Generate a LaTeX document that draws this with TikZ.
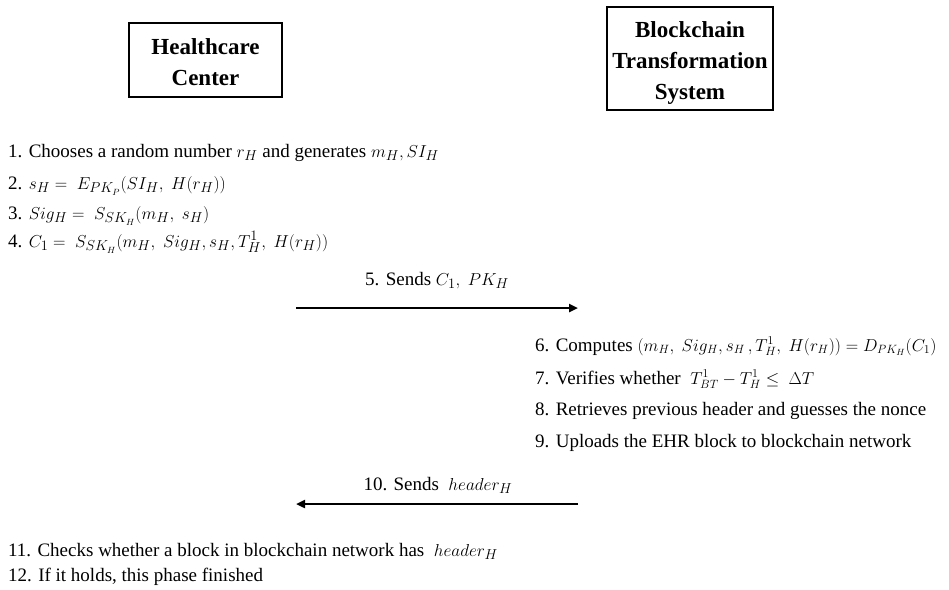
\documentclass[tikz,border=0pt]{standalone}
\usepackage{fontspec}
\setmainfont{Liberation Serif}
\usetikzlibrary{arrows.meta}
\newcommand\smallmath[1]{{\fontsize{18}{23}\selectfont$#1$}}
\tikzset{
  partybox/.style={draw, line width=1.2pt, inner sep=0pt},
  partytext/.style={align=center, inner sep=0pt,
    font=\fontsize{23}{31}\selectfont\bfseries},
  steptext/.style={anchor=base west, inner sep=0pt, font=\fontsize{19}{23}\selectfont},
  msglabel/.style={anchor=base, inner sep=0pt, font=\fontsize{19}{23}\selectfont},
  msgarrow/.style={line width=2.4pt, -{Triangle[length=9pt,width=8pt]}}
}
\begin{document}
\begin{tikzpicture}[x=1pt,y=-1pt]
\useasboundingbox (0,0) rectangle (949,589);
% party boxes
\node[partybox, minimum width=153pt, minimum height=74pt] (hc) at (205.5,60) {};
\node[partytext] (hct) at (205.5,62.5) {Healthcare\\Center};
\node[partybox, minimum width=166pt, minimum height=103pt] (bt) at (690,58.5) {};
\node[partytext] (btt) at (690,63.5) {Blockchain\\Transformation\\System};
% healthcare center steps
\node[steptext] (s1) at (8,157) {1. Chooses a random number $r_H$ and generates $m_H, SI_H$};
\node[steptext] (s2) at (8,189) {2. $s_H =\ E_{PK_P}(SI_H,\ H(r_H))$};
\node[steptext] (s3) at (8,219) {3. $Sig_H =\ S_{SK_H}(m_H,\ s_H)$};
\node[steptext] (s4) at (8,247) {4. $C_1 =\ S_{SK_H}(m_H,\ Sig_H, s_H, T_H^1,\ H(r_H))$};
% message 5
\coordinate (m5a) at (296,308);
\coordinate (m5b) at (578,308);
\draw[msgarrow] (m5a) -- (m5b);
\node[msglabel] (l5) at (437,285) {5. Sends $C_1,\ PK_H$};
% blockchain steps
\node[steptext] (s6) at (535,351) {6. Computes \smallmath{(m_H,\ Sig_H, s_H\,, T_H^1,\ H(r_H)) = D_{PK_H}(C_1)}};
\node[steptext] (s7) at (535,384) {7. Verifies whether\ \ \smallmath{T_{BT}^1 - T_H^1 \le\ \Delta T}};
\node[steptext] (s8) at (535,415) {8. Retrieves previous header and guesses the nonce};
\node[steptext] (s9) at (535,447) {9. Uploads the EHR block to blockchain network};
% message 10
\coordinate (m10a) at (578,504);
\coordinate (m10b) at (296,504);
\draw[msgarrow] (m10a) -- (m10b);
\node[msglabel] (l10) at (438,490) {10. Sends\ \ $header_H$};
% final steps
\node[steptext] (s11) at (8,556) {11. Checks whether a block in blockchain network has\ \ $header_H$};
\node[steptext] (s12) at (8,581) {12. If it holds, this phase finished};
\end{tikzpicture}
\end{document}
